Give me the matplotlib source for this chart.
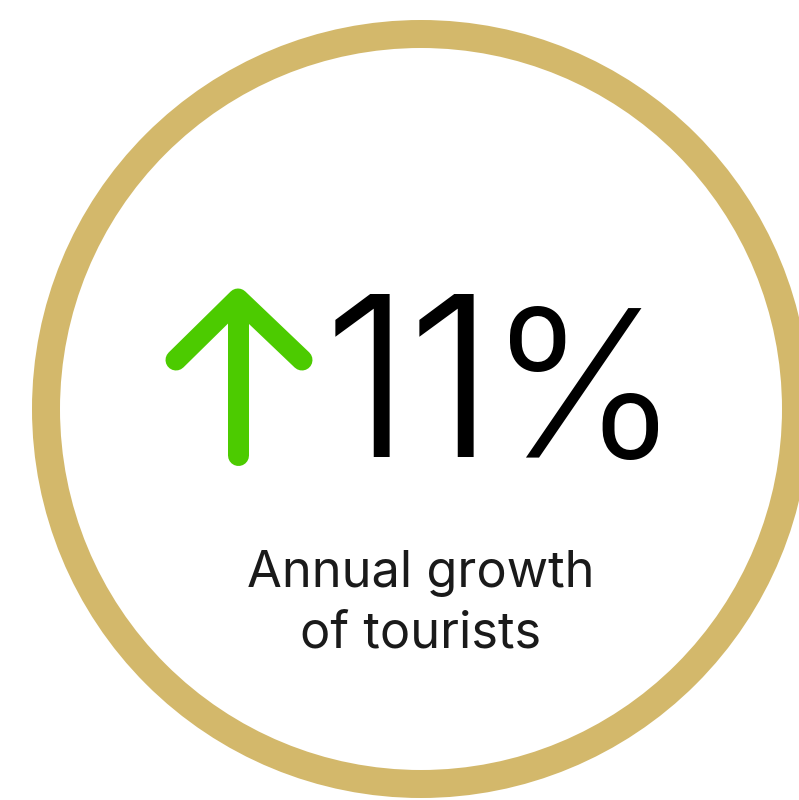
import matplotlib.pyplot as plt
from matplotlib.patches import Circle

# KPI values
growth_pct = 11
caption_lines = ["Annual growth", "of tourists"]

ring_color = "#D3B86B"
arrow_color = "#4CCB00"

W, H = 799, 800
fig = plt.figure(figsize=(W / 100, H / 100), dpi=100)
ax = fig.add_axes([0, 0, 1, 1])
ax.set_xlim(0, W)
ax.set_ylim(H, 0)
ax.set_aspect("equal")
ax.axis("off")

px = 0.72  # points per pixel at dpi 100

# gold ring
ring = Circle((421, 409), 375, fill=False, edgecolor=ring_color, linewidth=28 * px)
ax.add_patch(ring)

# green up arrow
lw = 21 * px
ax.plot([238, 238], [300, 455], color=arrow_color, lw=lw, solid_capstyle="round")
ax.plot([176, 238, 302], [360, 299, 360], color=arrow_color, lw=lw,
        solid_capstyle="round", solid_joinstyle="round")

# big number, set glyph by glyph to get the tight spacing of the original
label = "{}%".format(growth_pct)
centers = [367, 451, 584]
sizes = [224, 224, 205]
for ch, cx, sz in zip(label, centers, sizes):
    ax.text(cx, 457, ch, fontsize=sz * px, family="Inter", fontweight=350,
            color="black", ha="center", va="baseline")

# caption
for i, line in enumerate(caption_lines):
    ax.text(421, 587 + 61 * i, line, fontsize=50.5 * px, family="Inter",
            fontweight="normal", color="#1a1a1a", ha="center", va="baseline")

fig.savefig("out.png", dpi=100)
